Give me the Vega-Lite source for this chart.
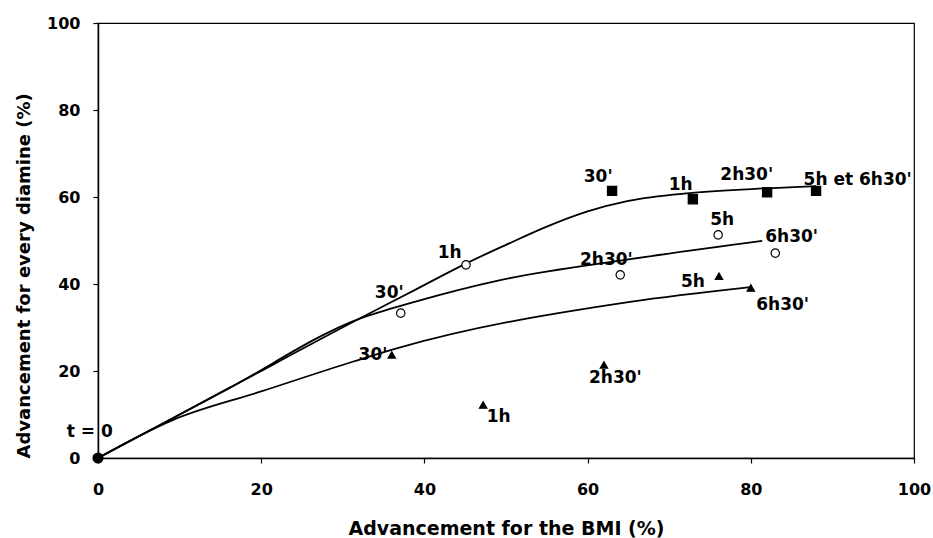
{
  "$schema": "https://vega.github.io/schema/vega-lite/v6.json",
  "width": 816,
  "height": 435,
  "autosize": {"type": "none"},
  "padding": {"left": 98, "top": 23, "right": 19, "bottom": 80},
  "background": "white",
  "config": {
    "view": {"stroke": "black", "strokeWidth": 1.2},
    "font": "DejaVu Sans",
    "axis": {
      "grid": false,
      "labelFlush": false,
      "labelOverlap": false,
      "domainColor": "black",
      "domainWidth": 1.5,
      "tickColor": "black",
      "tickWidth": 1.2,
      "labelFont": "DejaVu Sans",
      "labelFontWeight": "bold",
      "labelFontSize": 16,
      "labelColor": "black",
      "titleFont": "DejaVu Sans",
      "titleFontWeight": "bold",
      "titleColor": "black"
    }
  },
  "datasets": {
    "points": [
      {"series": "origin", "x": 0, "y": 0},
      {"series": "squares", "x": 63.0, "y": 61.4},
      {"series": "squares", "x": 72.9, "y": 59.5},
      {"series": "squares", "x": 82.0, "y": 61.1},
      {"series": "squares", "x": 88.0, "y": 61.4},
      {"series": "circles", "x": 37.1, "y": 33.3},
      {"series": "circles", "x": 45.1, "y": 44.4},
      {"series": "circles", "x": 64.0, "y": 42.1},
      {"series": "circles", "x": 76.0, "y": 51.3},
      {"series": "circles", "x": 83.0, "y": 47.1},
      {"series": "triangles", "x": 36.0, "y": 23.7},
      {"series": "triangles", "x": 47.2, "y": 12.2},
      {"series": "triangles", "x": 62.0, "y": 21.4},
      {"series": "triangles", "x": 76.1, "y": 41.8},
      {"series": "triangles", "x": 80.0, "y": 39.1}
    ],
    "curves": [
      {"series": "squares", "x": 0, "y": 0},
      {"series": "squares", "x": 16, "y": 16},
      {"series": "squares", "x": 32, "y": 32},
      {"series": "squares", "x": 38.8, "y": 38.6},
      {"series": "squares", "x": 45.2, "y": 44.8},
      {"series": "squares", "x": 50, "y": 49.0},
      {"series": "squares", "x": 55, "y": 53.2},
      {"series": "squares", "x": 60, "y": 56.7},
      {"series": "squares", "x": 65, "y": 59.1},
      {"series": "squares", "x": 72.5, "y": 60.9},
      {"series": "squares", "x": 82.0, "y": 62.0},
      {"series": "squares", "x": 88.0, "y": 62.5},
      {"series": "circles", "x": 0, "y": 0},
      {"series": "circles", "x": 16, "y": 16},
      {"series": "circles", "x": 32, "y": 32},
      {"series": "circles", "x": 38.8, "y": 35.9},
      {"series": "circles", "x": 49.3, "y": 40.9},
      {"series": "circles", "x": 65.2, "y": 45.7},
      {"series": "circles", "x": 81.4, "y": 49.9},
      {"series": "triangles", "x": 0, "y": 0},
      {"series": "triangles", "x": 9.0, "y": 8.6},
      {"series": "triangles", "x": 20.0, "y": 15.3},
      {"series": "triangles", "x": 31.5, "y": 22.3},
      {"series": "triangles", "x": 36.6, "y": 25.2},
      {"series": "triangles", "x": 65.2, "y": 35.9},
      {"series": "triangles", "x": 80.0, "y": 39.3}
    ],
    "labels": [
      {"text": "30'", "x": 61.3, "y": 63.4},
      {"text": "1h", "x": 71.4, "y": 61.6},
      {"text": "2h30'", "x": 79.5, "y": 63.9},
      {"text": "5h et 6h30'", "x": 93.1, "y": 62.8},
      {"text": "30'", "x": 35.7, "y": 36.8},
      {"text": "1h", "x": 43.1, "y": 46.0},
      {"text": "2h30'", "x": 62.3, "y": 44.4},
      {"text": "5h", "x": 76.5, "y": 53.6},
      {"text": "6h30'", "x": 85.0, "y": 49.7},
      {"text": "30'", "x": 33.7, "y": 22.5},
      {"text": "1h", "x": 49.1, "y": 8.3},
      {"text": "2h30'", "x": 63.4, "y": 17.2},
      {"text": "5h", "x": 72.9, "y": 39.3},
      {"text": "6h30'", "x": 83.9, "y": 34.0},
      {"text": "t = 0", "x": -1.0, "y": 4.8}
    ]
  },
  "layer": [
    {
      "data": {"name": "curves"},
      "mark": {"type": "line", "interpolate": "monotone", "color": "black", "strokeWidth": 1.8, "clip": false},
      "encoding": {
        "x": {"field": "x", "type": "quantitative", "scale": {"domain": [0, 100], "nice": false},
          "axis": {"orient": "bottom", "values": [0, 20, 40, 60, 80, 100], "tickSize": 5, "labelPadding": 18, "title": "Advancement for the BMI (%)", "titleFontSize": 19, "titlePadding": 22}},
        "y": {"field": "y", "type": "quantitative", "scale": {"domain": [0, 100], "nice": false},
          "axis": {"orient": "left", "values": [0, 20, 40, 60, 80, 100], "tickSize": 5, "labelPadding": 13, "title": "Advancement for every diamine (%)", "titleFontSize": 18, "titleAnchor": "start", "titlePadding": 13}},
        "detail": {"field": "series"},
        "order": {"field": "x", "type": "quantitative"}
      }
    },
    {
      "data": {"name": "points"},
      "mark": {"type": "point", "filled": true, "stroke": "black", "strokeWidth": 1.2, "clip": false, "opacity": 1},
      "encoding": {
        "x": {"field": "x", "type": "quantitative"},
        "y": {"field": "y", "type": "quantitative"},
        "shape": {"field": "series", "type": "nominal", "legend": null,
          "scale": {"domain": ["origin", "squares", "circles", "triangles"], "range": ["circle", "square", "circle", "triangle-up"]}},
        "fill": {"field": "series", "type": "nominal", "legend": null,
          "scale": {"domain": ["origin", "squares", "circles", "triangles"], "range": ["black", "black", "white", "black"]}},
        "size": {"field": "series", "type": "nominal", "legend": null,
          "scale": {"domain": ["origin", "squares", "circles", "triangles"], "range": [100, 55, 45, 45]}}
      }
    },
    {
      "data": {"name": "labels"},
      "mark": {"type": "text", "font": "DejaVu Sans", "fontWeight": "bold", "fontSize": 17, "color": "black", "align": "center", "baseline": "alphabetic", "clip": false},
      "encoding": {
        "x": {"field": "x", "type": "quantitative"},
        "y": {"field": "y", "type": "quantitative"},
        "text": {"field": "text"}
      }
    }
  ]
}
